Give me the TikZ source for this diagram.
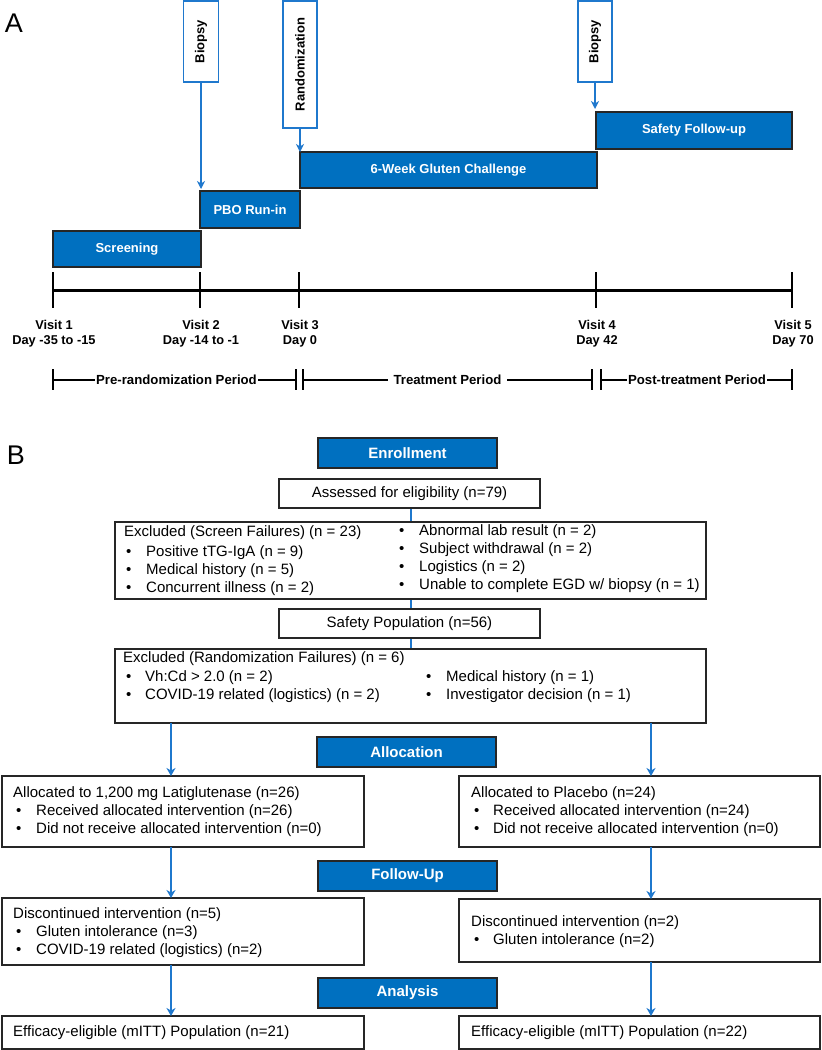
\documentclass[tikz,border=0pt]{standalone}
\usepackage{fontspec}
\setmainfont{Liberation Sans}
\usetikzlibrary{arrows.meta,backgrounds}
\definecolor{boxblue}{HTML}{0070C0}
\definecolor{lineblue}{HTML}{1F78CD}
\definecolor{edgegray}{HTML}{262626}
\newcommand\bulitem[5]{%
  \node[txt] (#1b) at (#2,#4) {\textbullet};
  \node[txt] (#1t) at (#3,#4) {#5};}
\begin{document}
\begin{tikzpicture}[x=1pt,y=-1pt,
  bluebox/.style={draw=edgegray, line width=1.4pt, fill=boxblue, text=white,
    anchor=north west, inner sep=0pt, outer sep=0pt},
  topfont/.style={font=\fontsize{13}{15}\selectfont\bfseries},
  flowfont/.style={font=\fontsize{15}{18}\selectfont\bfseries},
  wbox/.style={draw=edgegray, line width=1.1pt, fill=white, anchor=north west,
    inner sep=0pt, outer sep=0pt, font=\fontsize{15}{18}\selectfont},
  markbox/.style={draw=lineblue, line width=1.6pt, fill=white, rotate=90,
    inner sep=0pt, outer sep=0pt, font=\fontsize{13}{15}\selectfont\bfseries},
  txt/.style={anchor=west, inner sep=0pt, font=\fontsize{15}{18}\selectfont,
    text height=10.8pt, text depth=3pt},
  vlab/.style={align=center, inner sep=0pt, font=\fontsize{12.8}{15}\selectfont\bfseries},
  plab/.style={fill=white, inner sep=0pt, inner xsep=1pt, font=\fontsize{13.2}{15}\selectfont\bfseries},
  tarr/.style={draw=lineblue, line width=1.8pt, -{Stealth[length=8pt,width=8pt,inset=2.5pt]}},
  farr/.style={draw=lineblue, line width=2pt, -{Stealth[length=8pt,width=9pt,inset=2.5pt]}},
  fline/.style={draw=lineblue, line width=2pt},
  panel/.style={inner sep=0pt, font=\fontsize{27}{30}\selectfont}
]
\useasboundingbox (0,0) rectangle (822,1050);

% ---------------- Panel A ----------------
\node[panel] (labA) at (14,23) {A};

\node[bluebox, topfont, minimum width=148pt, minimum height=36pt] (screen) at (53,231) {Screening};
\node[bluebox, topfont, minimum width=100pt, minimum height=37pt] (pbo) at (200,191) {PBO Run-in};
\node[bluebox, topfont, minimum width=297pt, minimum height=36pt] (gluten) at (300,152) {6-Week Gluten Challenge};
\node[bluebox, topfont, minimum width=196pt, minimum height=37pt] (sfu) at (596,112) {Safety Follow-up};

\node[markbox, minimum width=81pt, minimum height=35pt] (bx1) at (201,41.5) {Biopsy};
\node[markbox, minimum width=127pt, minimum height=34pt] (rz) at (300,64.5) {Randomization};
\node[markbox, minimum width=81pt, minimum height=34pt] (bx2) at (595,41.5) {Biopsy};

\draw[tarr, shorten >=2pt] (bx1.west) -- (bx1.west |- pbo.north);
\draw[tarr] (rz.west) -- (rz.west |- gluten.north);
\draw[tarr, shorten >=3pt] (bx2.west) -- (bx2.west |- sfu.north);

% timeline
\coordinate (v1) at (53,290);
\coordinate (v5) at (792,290);
\draw[line width=3pt] (v1) -- (v5);
\foreach \xx in {53,200,299,596,792}
  \draw[line width=2pt] (\xx,272) -- (\xx,308);

\node[vlab] (l1) at (54,334) {Visit 1\\Day -35 to -15};
\node[vlab] (l2) at (201,334) {Visit 2\\Day -14 to -1};
\node[vlab] (l3) at (300,334) {Visit 3\\Day 0};
\node[vlab] (l4) at (597,334) {Visit 4\\Day 42};
\node[vlab] (l5) at (793,334) {Visit 5\\Day 70};

% periods
\draw[line width=1.2pt] (53,380) -- (296,380);
\draw[line width=1.2pt] (303,380) -- (592,380);
\draw[line width=1.2pt] (601,380) -- (792,380);
\foreach \xx in {53,296,303,592,601,792}
  \draw[line width=1.8pt] (\xx,369) -- (\xx,390);
\node[plab] (p1) at (176.5,380) {Pre-randomization Period};
\node[plab, inner xsep=6pt] (p2) at (447.5,380) {Treatment Period};
\node[plab] (p3) at (697,380) {Post-treatment Period};

% ---------------- Panel B ----------------
\node[panel] (labB) at (16,455) {B};

\node[bluebox, flowfont, minimum width=179pt, minimum height=30pt] (enroll) at (318,438) {Enrollment};
\node[wbox, minimum width=261pt, minimum height=29pt] (assess) at (279,479) {Assessed for eligibility (n=79)};
\node[wbox, minimum width=591pt, minimum height=77pt] (excl1) at (115,522) {};
\node[wbox, minimum width=261pt, minimum height=29pt] (safety) at (279,609) {Safety Population (n=56)};
\node[wbox, minimum width=591pt, minimum height=74pt] (excl2) at (115,649) {};
\node[bluebox, flowfont, minimum width=179pt, minimum height=30pt] (alloc) at (317,737) {Allocation};
\node[wbox, minimum width=362pt, minimum height=71pt] (allocL) at (2,776) {};
\node[wbox, minimum width=361pt, minimum height=71pt] (allocR) at (459,776) {};
\node[bluebox, flowfont, minimum width=179pt, minimum height=30pt] (follow) at (318,861) {Follow-Up};
\node[wbox, minimum width=362pt, minimum height=67pt] (discL) at (2,898) {};
\node[wbox, minimum width=361pt, minimum height=63pt] (discR) at (459,899) {};
\node[bluebox, flowfont, minimum width=179pt, minimum height=30pt] (analysis) at (318,978) {Analysis};
\node[wbox, minimum width=362pt, minimum height=33pt] (effL) at (2,1016) {};
\node[wbox, minimum width=361pt, minimum height=33pt] (effR) at (459,1016) {};

% texts: screen failures
\node[txt] (e1title) at (124,533) {Excluded (Screen Failures) (n = 23)};
\bulitem{e1a}{126}{146}{553}{Positive tTG-IgA (n = 9)}
\bulitem{e1b}{126}{146}{571}{Medical history (n = 5)}
\bulitem{e1c}{126}{146}{589}{Concurrent illness (n = 2)}
\bulitem{e1d}{399}{419}{532}{Abnormal lab result (n = 2)}
\bulitem{e1e}{399}{419}{550}{Subject withdrawal (n = 2)}
\bulitem{e1f}{399}{419}{568}{Logistics (n = 2)}
\bulitem{e1g}{399}{419}{586}{Unable to complete EGD w/ biopsy (n = 1)}

% randomization failures
\node[txt] (e2title) at (123,659) {Excluded (Randomization Failures) (n = 6)};
\bulitem{e2a}{126}{145}{678}{Vh:Cd > 2.0 (n = 2)}
\bulitem{e2b}{126}{145}{696}{COVID-19 related (logistics) (n = 2)}
\bulitem{e2c}{426}{446}{678}{Medical history (n = 1)}
\bulitem{e2d}{426}{446}{696}{Investigator decision (n = 1)}

% allocation
\node[txt] (aLtitle) at (13,794) {Allocated to 1,200 mg Latiglutenase (n=26)};
\bulitem{aLa}{16}{36}{812}{Received allocated intervention (n=26)}
\bulitem{aLb}{16}{36}{830}{Did not receive allocated intervention (n=0)}
\node[txt] (aRtitle) at (471,794) {Allocated to Placebo (n=24)};
\bulitem{aRa}{474}{493}{812}{Received allocated intervention (n=24)}
\bulitem{aRb}{474}{493}{830}{Did not receive allocated intervention (n=0)}

% follow-up
\node[txt] (dLtitle) at (13,915) {Discontinued intervention (n=5)};
\bulitem{dLa}{16}{36}{933}{Gluten intolerance (n=3)}
\bulitem{dLb}{16}{36}{951}{COVID-19 related (logistics) (n=2)}
\node[txt] (dRtitle) at (471,923) {Discontinued intervention (n=2)};
\bulitem{dRa}{474}{493}{941}{Gluten intolerance (n=2)}

% analysis
\node[txt] (eLt) at (13,1033) {Efficacy-eligible (mITT) Population (n=21)};
\node[txt] (eRt) at (471,1033) {Efficacy-eligible (mITT) Population (n=22)};

% connectors
\coordinate (cm) at (411,0);
\coordinate (cl) at (171,0);
\coordinate (cr) at (651,0);
\begin{scope}[on background layer]
  \draw[fline] (cm |- assess.south) -- (cm |- safety.north);
  \draw[fline] (cm |- safety.south) -- (cm |- excl2.north);
\end{scope}
\draw[farr] (cl |- excl2.south) -- (cl |- allocL.north);
\draw[farr] (cr |- excl2.south) -- (cr |- allocR.north);
\draw[farr] (cl |- allocL.south) -- (cl |- discL.north);
\draw[farr] (cr |- allocR.south) -- (cr |- discR.north);
\draw[farr] (cl |- discL.south) -- (cl |- effL.north);
\draw[farr] (cr |- discR.south) -- (cr |- effR.north);
\end{tikzpicture}
\end{document}
